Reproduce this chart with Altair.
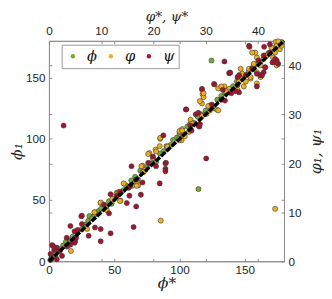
import altair as alt
import pandas as pd

series = ["ϕ", "φ", "ψ"]
colors = ["#77AC30", "#EDB120", "#A2142F"]

bottom_ticks = [0, 50, 100, 150]
left_ticks = [0, 50, 100, 150]
top_ticks = [0, 10, 20, 30, 40]
right_ticks = [0, 10, 20, 30, 40]

# series ϕ  (bottom / left axes, 0-180)
phi_star = [1, 2, 4, 5, 7, 9, 11, 13, 14, 16, 18, 20, 22, 25, 27, 28, 30, 31, 33, 35,
            38, 40, 42, 44, 46, 48, 50, 52, 54, 57, 59, 61, 63, 66, 68, 70, 72, 75, 77, 80,
            82, 85, 88, 90, 93, 95, 98, 100, 103, 106, 108, 111, 114, 117, 120, 123, 126, 129, 132, 135,
            138, 141, 144, 147, 150, 153, 156, 159, 162, 165, 168, 171, 174, 176, 178, 124.5, 114.5]
phi_1 = [1, 3, 5, 4, 9, 10, 13, 16, 12, 17, 20, 19, 25, 26, 30, 28, 33, 37, 35, 38,
         41, 43, 46, 45, 49, 47, 51, 56, 55, 58, 62, 60, 66, 69, 67, 74, 73, 77, 80, 83,
         81, 88, 90, 94, 95, 99, 101, 104, 103, 110, 112, 113, 118, 120, 123, 127, 125, 132, 135, 137,
         140, 143, 147, 149, 152, 155, 158, 161, 163, 168, 170, 173, 175, 177, 179, 164, 59]

# series φ  (top / right axes, 0-45)
varphi_star = [4.2, 21.4, 43.3, 21.3, 7.3, 8.8, 9.9, 11.1, 12.1, 13.3, 13.7, 12.9, 15.9, 16.8, 17.1, 17.9, 18.5, 19.2, 19.9, 20.4,
               21.2, 21.3, 22.7, 25.0, 25.4, 25.0, 25.5, 26.0, 24.9, 26.8, 29.4, 29.6, 29.3, 30.5, 30.8, 32.4, 33.6, 34.5, 31.7, 32.1,
               32.4, 29.3, 30.2, 43.4, 43.9, 43.6, 44.2, 43.3, 42.6, 42.9, 41.7, 41.1, 39.8, 39.5, 41.4, 40.5, 39.2, 39.8, 38.3, 38.6,
               37.7, 37.0, 37.3, 39.8, 36.4, 36.1, 43.6, 29.3, 29.6, 28.9, 27.1, 27.4, 25.5, 24.9, 33.0, 33.9, 38.9, 39.2, 44.5, 40.5,
               38.6, 36.7, 13.6, 9.9, 8.7, 19.0, 20.5, 17.7, 18.1, 16.8, 14.3]
varphi_1 = [2.1, 8.3, 10.7, 25.0, 6.6, 10.0, 11.9, 10.4, 12.7, 14.1, 12.4, 13.7, 15.4, 16.2, 15.5, 19.5, 18.7, 22.1, 21.1, 22.8,
            23.5, 25.2, 23.4, 26.4, 24.7, 26.6, 27.0, 25.5, 24.7, 26.4, 34.1, 33.5, 32.2, 31.7, 30.8, 35.3, 35.7, 35.2, 36.1, 31.0,
            30.8, 29.7, 30.1, 44.8, 44.9, 44.0, 43.3, 42.6, 43.6, 41.6, 42.0, 41.3, 41.6, 42.6, 39.6, 40.0, 40.0, 38.6, 39.3, 37.3,
            36.7, 38.3, 35.7, 36.3, 36.7, 35.0, 40.0, 35.0, 34.3, 32.7, 28.9, 28.1, 26.7, 25.0, 35.7, 34.7, 42.6, 40.3, 44.0, 37.6,
            37.6, 39.3, 12.3, 12.0, 10.0, 21.9, 22.4, 19.4, 18.2, 15.4, 15.9]

# series ψ  (top / right axes, 0-45)
psi_star = [2.8, 38.3, 33.6, 31.6, 34.6, 26.2, 21.9, 30.1, 21.2, 22.3, 22.3, 22.3, 15.8, 16.2, 11.8, 9.9, 9.9, 4.1, 0.8, 16.7,
            14.9, 17.6, 15.4, 6.2, 11.5, 7.6, 28.6, 28.8, 0.5, 0.3, 1.0, 1.5, 2.5, 0.6, 5.0, 4.1, 26.3, 28.1, 28.6, 29.3,
            33.0, 33.7, 34.5, 36.1, 37.7, 36.4, 28.9, 27.1, 27.3, 31.2, 38.4, 41.2, 42.3, 42.8, 43.6, 43.9, 43.3, 34.7, 36.4, 40.5,
            39.8, 41.1, 36.1, 35.8, 39.8, 40.8, 38.9, 22.4, 20.5, 19.0, 19.9, 15.6, 16.7, 17.9, 15.3, 11.8, 6.3, 6.3, 4.9, 5.2,
            4.9, 3.4, 3.4, 2.1, 1.5, 8.8, 5.5, 10.5, 13.0, 13.6, 33.3, 34.9, 42.3, 41.1, 40.1, 43.6, 41.4]
psi_1 = [27.7, 44.0, 40.8, 36.2, 38.5, 31.0, 25.7, 21.0, 15.9, 20.0, 18.9, 18.4, 19.4, 7.0, 5.7, 4.1, 6.6, 7.2, 3.1, 11.2,
         11.9, 13.6, 13.4, 9.2, 9.8, 5.2, 27.7, 27.5, 0.5, 1.5, 2.3, 0.4, 1.1, 3.3, 4.1, 3.4, 31.0, 30.0, 30.3, 35.2,
         33.0, 32.8, 38.4, 37.6, 38.0, 34.5, 28.0, 27.7, 26.7, 32.0, 43.8, 43.8, 44.3, 40.6, 41.0, 40.3, 41.3, 38.5, 38.0, 38.0,
         38.3, 38.6, 36.0, 34.7, 35.7, 38.0, 39.3, 20.1, 19.4, 20.1, 21.4, 15.4, 16.7, 16.1, 15.1, 13.7, 9.3, 7.6, 6.1, 4.8,
         3.8, 4.8, 3.1, 2.1, 2.8, 6.9, 6.4, 11.6, 13.4, 14.2, 35.0, 34.3, 42.6, 42.0, 41.0, 40.6, 39.6]

diag_x = [0, 180]
diag_y = [0, 180]

df_a = pd.DataFrame({"x": phi_star, "y": phi_1, "s": series[0]})
df_b = pd.concat([
    pd.DataFrame({"x": varphi_star, "y": varphi_1, "s": series[1]}),
    pd.DataFrame({"x": psi_star, "y": psi_1, "s": series[2]}),
], ignore_index=True)
df_d = pd.DataFrame({"x": diag_x, "y": diag_y})

W, H = 241, 226
GRAY = "#8c8c8c"

legend = alt.Legend(
    orient="none", legendX=13, legendY=4, direction="horizontal", title=None,
    symbolType="circle", symbolSize=20, symbolStrokeWidth=0, symbolOpacity=1,
    labelFont="DejaVu Serif", labelFontStyle="italic", labelFontSize=15, labelColor="#111",
    labelOffset=7, columnPadding=6, strokeColor="#999", fillColor="white", padding=4,
)
color = alt.Color("s:N", scale=alt.Scale(domain=series, range=colors), legend=legend)

pt = dict(size=27, opacity=1, stroke="#3a3a3a", strokeWidth=0.6)

layer_a = alt.Chart(df_a).mark_circle(**pt).encode(
    x=alt.X("x:Q", scale=alt.Scale(domain=[0, 180], nice=False, zero=False),
            axis=alt.Axis(orient="bottom", values=bottom_ticks, title="ϕ*", grid=True,
                          gridDash=[3, H - 6, 3, 100], titleX=W / 2, titleY=27,
                          titleBaseline="alphabetic")),
    y=alt.Y("y:Q", scale=alt.Scale(domain=[0, 180], nice=False, zero=False),
            axis=alt.Axis(orient="left", values=left_ticks, title="ϕ₁", grid=True,
                          gridDash=[3, W - 6, 3, 100], titleX=-33, titleY=H / 2,
                          titleAngle=270, titleBaseline="middle")),
    color=color,
)

layer_b = alt.Chart(df_b).mark_circle(**pt).encode(
    x=alt.X("x:Q", scale=alt.Scale(domain=[0, 45], nice=False, zero=False),
            axis=alt.Axis(orient="top", values=top_ticks, title="φ*, ψ*", grid=True,
                          gridDash=[3, H - 6, 3, 100], titleX=W / 2, titleY=-21,
                          titleFontSize=14, titleBaseline="alphabetic")),
    y=alt.Y("y:Q", scale=alt.Scale(domain=[0, 45], nice=False, zero=False),
            axis=alt.Axis(orient="right", values=right_ticks, title="φ₁, ψ₁", grid=True,
                          titleAngle=270, titleX=32, titleY=H / 2, titleBaseline="middle",
                          gridDash=[3, W - 6, 3, 100])),
    color=color,
)

line = alt.Chart(df_d).mark_line(color="black", strokeWidth=3.5, strokeDash=[6, 1.5]).encode(
    x=alt.X("x:Q", scale=alt.Scale(domain=[0, 180], nice=False, zero=False), axis=None),
    y=alt.Y("y:Q", scale=alt.Scale(domain=[0, 180], nice=False, zero=False), axis=None),
)

chart = alt.layer(layer_a, layer_b, line).resolve_scale(
    x="independent", y="independent"
).properties(
    width=W, height=H,
    autosize=alt.AutoSizeParams(type="none"),
    padding={"left": 42, "top": 30, "right": 41, "bottom": 35},
).configure_view(stroke=GRAY, strokeWidth=1).configure_axis(
    labelFont="Liberation Sans", labelFontSize=12, labelColor="#262626",
    labelFlush=False, ticks=False, labelPadding=4,
    domainColor=GRAY, gridColor=GRAY, gridWidth=1, gridOpacity=1,
    titleFont="DejaVu Serif", titleFontStyle="italic", titleFontWeight="normal",
    titleFontSize=16, titleColor="#262626", titlePadding=2,
)

chart.save("out.html", embed_options={"renderer": "svg", "actions": False})
